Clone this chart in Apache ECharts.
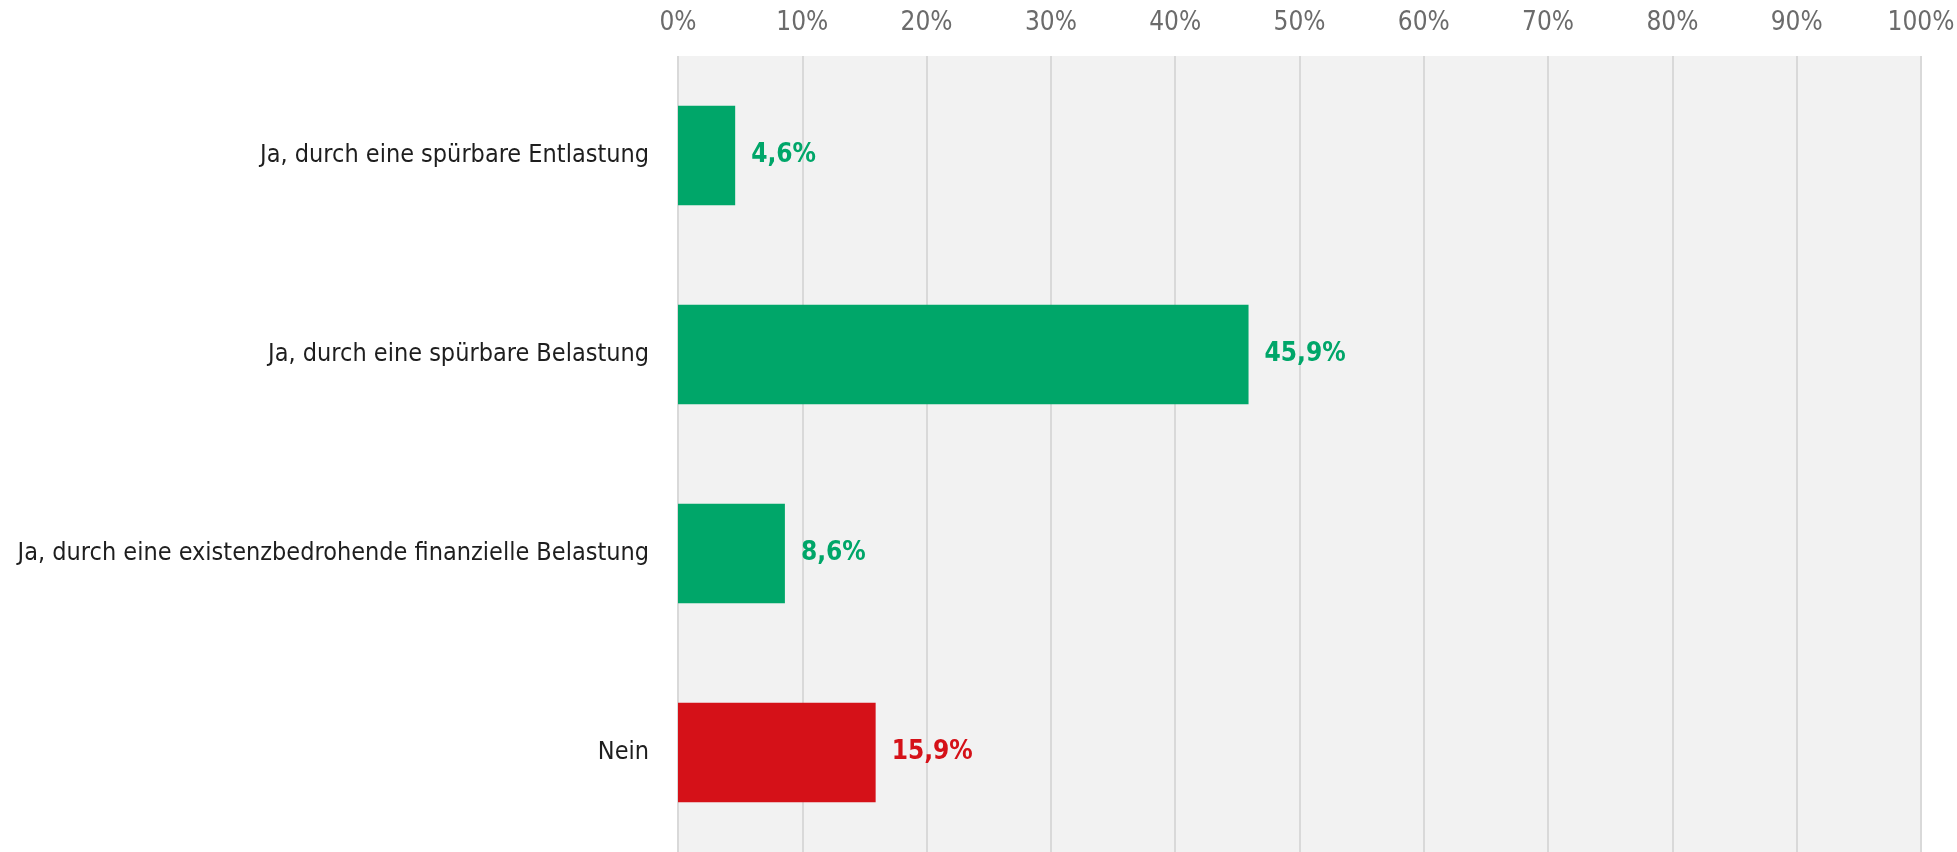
<!DOCTYPE html>
<html>
<head>
<meta charset="utf-8">
<script src="https://cdn.jsdelivr.net/npm/echarts@6/dist/echarts.min.js"></script>
<style>
	html, body { margin: 0; padding: 0; background: #fff; }
	#container { width: 1957px; height: 852px; }
</style>
</head>
<body>
<div id="container"></div>
<script>
// Antworten (von oben nach unten)
var categories = [
	'Ja, durch eine spürbare Entlastung',
	'Ja, durch eine spürbare Belastung',
	'Ja, durch eine existenzbedrohende finanzielle Belastung',
	'Nein'
];
// Anteil in Prozent
var values = [4.6, 45.9, 8.6, 15.9];
// Achsenbeschriftung
var tickValues = [0, 10, 20, 30, 40, 50, 60, 70, 80, 90, 100];

var green = '#00a669';
var red = '#d51118';
var font = '"Liberation Sans Narrow", "DejaVu Sans Condensed", sans-serif';

var myChart = echarts.init(document.getElementById('container'));

myChart.setOption({
	animation : false,
	textStyle : { fontFamily : font },
	grid : {
		left : 678,
		right : 36,
		top : 56,
		bottom : 0,
		outerBoundsMode : 'none',
		containLabel : false,
		show : true,
		backgroundColor : '#f2f2f2',
		borderWidth : 0
	},
	xAxis : {
		type : 'value',
		position : 'top',
		min : tickValues[0],
		max : tickValues[tickValues.length - 1],
		interval : 10,
		axisLine : { show : false },
		axisTick : { show : false },
		axisLabel : {
			color : '#6b6b6b',
			fontSize : 26,
			margin : 20,
			fontFamily : font,
			formatter : function (v) { return v + '%'; }
		},
		splitLine : {
			show : true,
			lineStyle : { color : '#d9d9d9', width : 2 }
		}
	},
	yAxis : {
		type : 'category',
		inverse : true,
		data : categories,
		axisLine : { show : false },
		axisTick : { show : false },
		axisLabel : {
			color : '#1e1e1e',
			fontSize : 25,
			margin : 29,
			fontFamily : font
		}
	},
	series : [ {
		type : 'bar',
		barWidth : '50%',
		data : values.map(function (v, i) {
			var c = categories[i] === 'Nein' ? red : green;
			return {
				value : v,
				itemStyle : { color : c },
				label : { color : c }
			};
		}),
		label : {
			show : true,
			position : 'right',
			distance : 16,
			fontSize : 26,
			fontWeight : 'bold',
			fontFamily : font,
			formatter : function (p) {
				return p.value.toFixed(1).replace('.', ',') + '%';
			}
		}
	} ]
});
</script>
</body>
</html>
